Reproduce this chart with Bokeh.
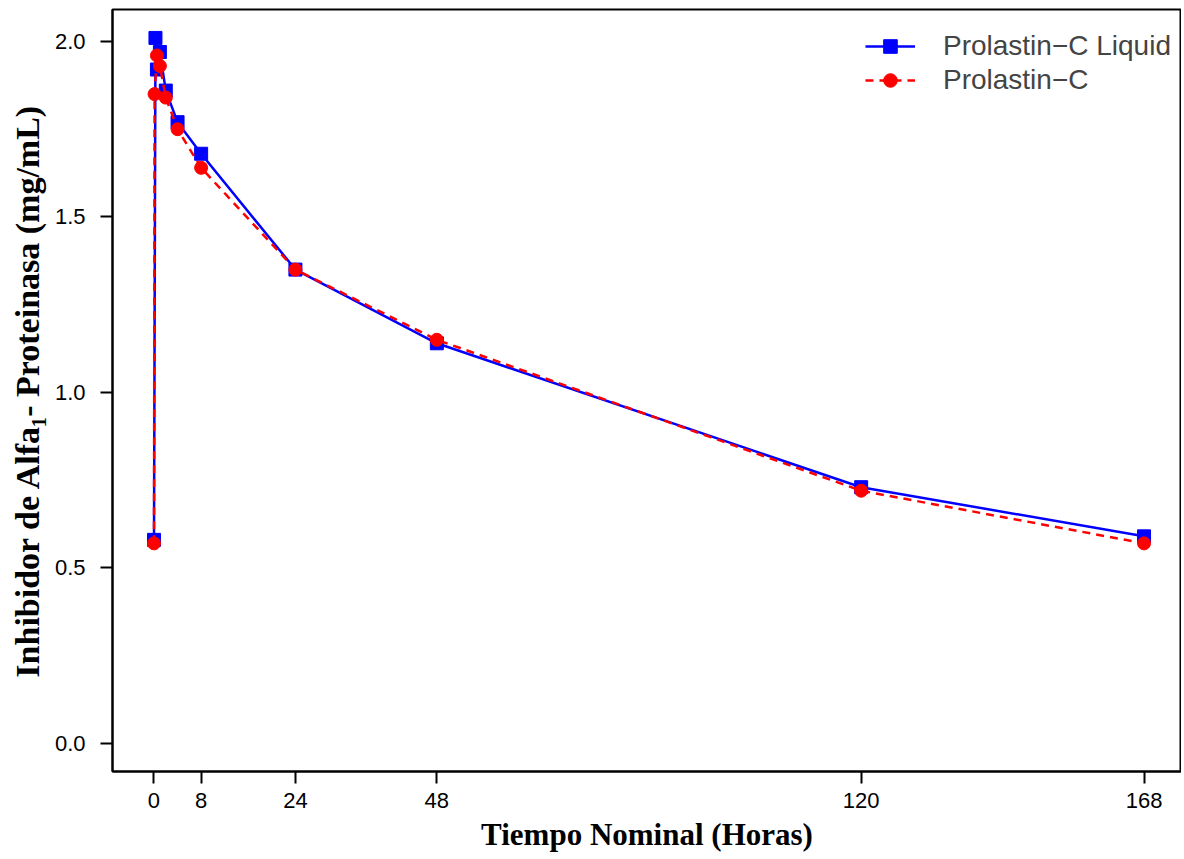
from bokeh.plotting import figure
from bokeh.models import Range1d, FixedTicker, Legend, LegendItem
from bokeh.embed import file_html
from bokeh.resources import INLINE

# Data
time_liquid = [0, 0.25, 0.5, 1, 2, 4, 8, 24, 48, 120, 168]
conc_liquid = [0.58, 2.01, 1.92, 1.97, 1.86, 1.77, 1.68, 1.35, 1.14, 0.73, 0.59]
time_std = [0, 0.1, 0.5, 1, 2, 4, 8, 24, 48, 120, 168]
conc_std = [0.57, 1.85, 1.96, 1.93, 1.84, 1.75, 1.64, 1.35, 1.15, 0.72, 0.57]
x_ticks = [0, 8, 24, 48, 120, 168]
y_ticks = [0, 0.5, 1.0, 1.5, 2.0]
y_tick_labels = ["0.0", "0.5", "1.0", "1.5", "2.0"]
series_names = ["Prolastin\u2212C Liquid", "Prolastin\u2212C"]

p = figure(width=1181, height=854, output_backend="svg", toolbar_location=None,
           x_range=Range1d(-7.04, 174.36), y_range=Range1d(-0.08, 2.091),
           min_border_left=112, min_border_right=0, min_border_top=9, min_border_bottom=0)
p.background_fill_color = "white"
p.border_fill_color = "white"
p.grid.visible = False
p.outline_line_color = "black"
p.outline_line_width = 2

l1 = p.line(time_liquid, conc_liquid, line_color="blue", line_width=2.5)
s1 = p.scatter(time_liquid, conc_liquid, marker="square", size=13, color="blue")
l2 = p.line(time_std, conc_std, line_color="red", line_width=2.5, line_dash="8 6")
s2 = p.scatter(time_std, conc_std, marker="circle", size=13, color="red")

p.xaxis.ticker = FixedTicker(ticks=x_ticks)
p.yaxis.ticker = FixedTicker(ticks=y_ticks)
p.yaxis.major_label_overrides = {t: l for t, l in zip(y_ticks, y_tick_labels)}

for ax in (p.xaxis[0], p.yaxis[0]):
    ax.axis_line_width = 2
    ax.axis_line_color = "black"
    ax.major_tick_line_width = 2
    ax.major_tick_line_color = "black"
    ax.major_tick_out = 12
    ax.major_tick_in = 0
    ax.minor_tick_out = 0
    ax.minor_tick_in = 0
    ax.major_label_text_color = "black"
    ax.axis_label_text_color = "black"
    ax.axis_label_text_font = "Liberation Serif"
    ax.axis_label_text_font_style = "bold"

p.xaxis.major_label_text_font = "Liberation Sans"
p.xaxis.major_label_text_font_size = "22px"
p.xaxis.major_label_standoff = 9
p.xaxis.axis_label = "Tiempo Nominal (Horas)"
p.xaxis.axis_label_text_font_size = "31px"
p.xaxis.axis_label_standoff = 6

p.yaxis.major_label_text_font = "Liberation Sans"
p.yaxis.major_label_text_font_size = "22px"
p.yaxis.major_label_standoff = 15
p.yaxis.axis_label = "Inhibidor de Alfa\u2081- Proteinasa (mg/mL)"
p.yaxis.axis_label_text_font_size = "34px"
p.yaxis.axis_label_standoff = 6

legend = Legend(items=[LegendItem(label=series_names[0], renderers=[l1, s1]),
                       LegendItem(label=series_names[1], renderers=[l2, s2])],
                location="top_right", title=" ")
legend.title_text_font_size = "7px"
legend.title_standoff = 3
legend.border_line_color = None
legend.background_fill_alpha = 0
legend.label_text_font = "Liberation Sans"
legend.label_text_font_size = "28px"
legend.glyph_width = 50
legend.glyph_height = 34
legend.label_height = 34
legend.label_standoff = 28
legend.spacing = 0
legend.margin = 10
legend.padding = 6
p.add_layout(legend)

open("out.html", "w").write(file_html(p, INLINE))
